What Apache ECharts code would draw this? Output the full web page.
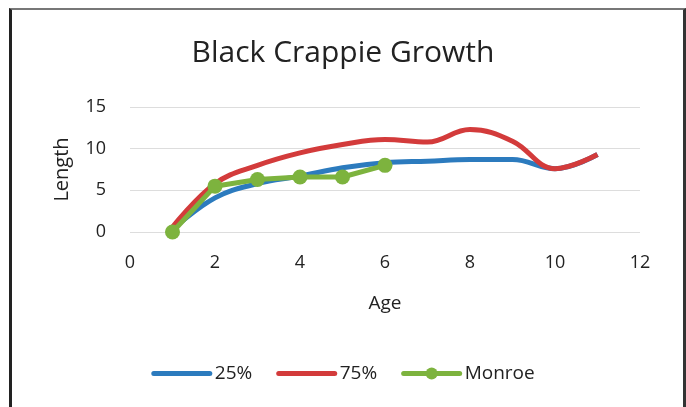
<!DOCTYPE html>
<html><head><meta charset="utf-8">
<script src="https://cdn.jsdelivr.net/npm/echarts@6/dist/echarts.min.js"></script>
<style>
html,body{margin:0;padding:0;background:#fff;}
#frame{position:absolute;left:9px;top:8px;width:671px;height:399px;border-left:3px solid #222;border-right:3px solid #333;border-top:2px solid #777;box-sizing:content-box;}
#c{position:absolute;left:0;top:0;width:686px;height:407px;}
</style></head>
<body>
<div id="frame"></div>
<div id="c"></div>
<script>
const ages = [1,2,3,4,5,6,7,8,9,10,11];
const p25 = [0.3,4.1,5.8,6.7,7.7,8.3,8.5,8.7,8.7,7.6,9.3];
const p75 = [0.6,5.8,8.0,9.5,10.5,11.1,10.8,12.3,10.9,7.6,9.3];
const monroeAges = [1,2,3,4,5,6];
const monroe = [0,5.5,6.3,6.6,6.6,8.0];
const xTicks = [0,2,4,6,8,10,12];
const yTicks = [0,5,10,15];

const font = 'Open Sans';
const chart = echarts.init(document.getElementById('c'));
chart.setOption({
  animation:false,
  backgroundColor:'transparent',
  title:{text:'Black Crappie Growth',left:'center',top:33,textStyle:{fontFamily:font,fontSize:30,fontWeight:'normal',color:'#222'}},
  legend:{bottom:19,left:'center',itemWidth:56,itemHeight:15,itemGap:24,
    lineStyle:{width:5,cap:'round'},
    textStyle:{fontFamily:font,fontSize:19,color:'#222'},
    data:[{name:'25%',itemStyle:{opacity:0}},{name:'75%',itemStyle:{opacity:0}},{name:'Monroe'}]},
  grid:{left:130,right:46,top:107,bottom:175,containLabel:false},
  xAxis:{type:'value',min:0,max:12,interval:2,
    name:'Age',nameLocation:'middle',nameGap:62,
    nameTextStyle:{fontFamily:font,fontSize:19,color:'#222'},
    axisLine:{show:false},axisTick:{show:false},splitLine:{show:false},
    axisLabel:{fontFamily:font,fontSize:18,color:'#222',margin:22,
      formatter:v=>xTicks.includes(v)?String(v):''}},
  yAxis:{type:'value',min:0,max:15,interval:5,
    name:'Length',nameLocation:'middle',nameGap:58,
    nameTextStyle:{fontFamily:font,fontSize:20,color:'#222'},
    axisLine:{show:false},axisTick:{show:false},
    splitLine:{lineStyle:{color:'#ddd',width:1}},
    axisLabel:{fontFamily:font,fontSize:18,color:'#222',margin:24,
      formatter:v=>yTicks.includes(v)?String(v):''}},
  series:[
    {name:'25%',type:'line',smooth:0.4,showSymbol:false,symbol:'none',
      data:ages.map((a,i)=>[a,p25[i]]),
      lineStyle:{color:'#2C7BBE',width:5},itemStyle:{color:'#2C7BBE'}},
    {name:'75%',type:'line',smooth:0.4,showSymbol:false,symbol:'none',
      data:ages.map((a,i)=>[a,p75[i]]),
      lineStyle:{color:'#D33B3B',width:5},itemStyle:{color:'#D33B3B'}},
    {name:'Monroe',type:'line',smooth:false,symbol:'circle',symbolSize:15,
      data:monroeAges.map((a,i)=>[a,monroe[i]]),
      lineStyle:{color:'#7DB33E',width:5},itemStyle:{color:'#7DB33E'}}
  ]
});
</script>
</body></html>
